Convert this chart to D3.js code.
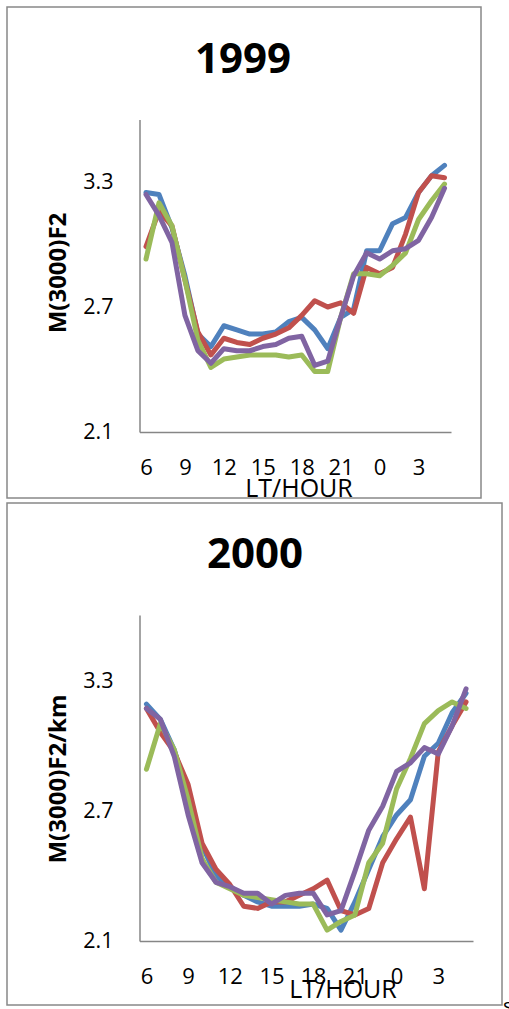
<!DOCTYPE html>
<html><head><meta charset="utf-8">
<script src="https://cdn.jsdelivr.net/npm/d3@7"></script>
<style>body{margin:0;background:#fff;} svg{display:block;}</style>
</head><body>
<svg id="c" width="509" height="1009"></svg>
<script>
const hours = ["6","7","8","9","10","11","12","13","14","15","16","17","18","19","20","21","22","23","0","1","2","3","4","5"];
const tickHours = ["6","9","12","15","18","21","0","3"];
const yTicks = [2.1, 2.7, 3.3];
const seriesColors = ["#4F81BD","#C0504D","#9BBB59","#8064A2"];

const s1999_blue   = [3.25,3.24,3.08,2.85,2.57,2.51,2.61,2.59,2.57,2.57,2.58,2.63,2.65,2.59,2.50,2.65,2.69,2.97,2.97,3.10,3.13,3.25,3.33,3.38];
const s1999_red    = [2.99,3.16,3.09,2.83,2.58,2.47,2.55,2.53,2.52,2.55,2.57,2.60,2.66,2.73,2.70,2.72,2.67,2.89,2.86,2.89,3.05,3.25,3.33,3.32];
const s1999_green  = [2.93,3.20,3.09,2.83,2.54,2.41,2.45,2.46,2.47,2.47,2.47,2.46,2.47,2.39,2.39,2.65,2.86,2.86,2.85,2.90,2.96,3.12,3.21,3.29];
const s1999_purple = [3.24,3.14,3.01,2.66,2.49,2.43,2.50,2.49,2.49,2.51,2.52,2.55,2.56,2.42,2.44,2.65,2.85,2.96,2.93,2.97,2.98,3.02,3.13,3.27];

const s2000_blue   = [3.19,3.12,2.98,2.77,2.54,2.40,2.35,2.31,2.28,2.26,2.26,2.26,2.27,2.25,2.15,2.28,2.43,2.58,2.68,2.75,2.95,3.01,3.15,3.24];
const s2000_red    = [3.17,3.06,2.97,2.82,2.55,2.43,2.36,2.26,2.25,2.28,2.28,2.31,2.34,2.38,2.24,2.22,2.25,2.46,2.57,2.67,2.34,2.97,3.09,3.20];
const s2000_green  = [2.89,3.10,2.98,2.75,2.48,2.37,2.34,2.31,2.30,2.29,2.28,2.27,2.27,2.15,2.19,2.22,2.46,2.55,2.80,2.94,3.10,3.16,3.20,3.17];
const s2000_purple = [3.17,3.12,2.95,2.68,2.46,2.37,2.35,2.32,2.32,2.27,2.31,2.32,2.32,2.22,2.24,2.42,2.61,2.72,2.88,2.92,2.99,2.96,3.09,3.26];

const panels = [
  {title:"1999", ytitle:"M(3000)F2", series:[s1999_blue,s1999_red,s1999_green,s1999_purple],
   box:[7,7,481,498], plot:{x0:139.5,x1:451,y0:432,y1:119.5}, titleX:243, titleY:73,
   ytitleX:66, ytitleY:273, xlabY:475, lthX:299, lthY:497},
  {title:"2000", ytitle:"M(3000)F2/km", series:[s2000_blue,s2000_red,s2000_green,s2000_purple],
   box:[7,503,502,1005], plot:{x0:139.5,x1:473,y0:941,y1:615}, titleX:255, titleY:568,
   ytitleX:66, ytitleY:779, xlabY:984, lthX:343, lthY:998}
];

const svg = d3.select("#c");
const F = "'Open Sans', 'Noto Sans', sans-serif";

panels.forEach(p => {
  const g = svg.append("g");
  g.append("rect").attr("x",p.box[0]).attr("y",p.box[1])
    .attr("width",p.box[2]-p.box[0]).attr("height",p.box[3]-p.box[1])
    .attr("fill","#fff").attr("stroke","#888").attr("stroke-width",1.5);

  const x = d3.scalePoint().domain(hours).range([p.plot.x0,p.plot.x1]).padding(0.5);
  const y = d3.scaleLinear().domain([2.1,3.6]).range([p.plot.y0,p.plot.y1]);

  const yAx = g.append("g").attr("transform",`translate(${p.plot.x0},0)`)
    .call(d3.axisLeft(y).tickValues(yTicks).tickSize(0).tickSizeOuter(0).tickPadding(26).tickFormat(d3.format(".1f")));
  yAx.select(".domain").attr("stroke","#868686").attr("stroke-width",1.5);
  yAx.selectAll("text").attr("font-family",F).attr("font-size",21.5).attr("fill","#000");

  const xAx = g.append("g").attr("transform",`translate(0,${p.plot.y0})`)
    .call(d3.axisBottom(x).tickValues(tickHours).tickSize(0).tickSizeOuter(0).tickPadding(0));
  xAx.select(".domain").attr("stroke","#868686").attr("stroke-width",1.5);
  xAx.selectAll("text").attr("font-family",F).attr("font-size",22).attr("fill","#000")
    .attr("dy",null).attr("y",p.xlabY-p.plot.y0);

  const line = d3.line().x((d,i)=>x(hours[i])).y(d=>y(d));
  p.series.forEach((s,k) => {
    g.append("path").datum(s).attr("d",line).attr("fill","none")
      .attr("stroke",seriesColors[k]).attr("stroke-width",5)
      .attr("stroke-linejoin","round").attr("stroke-linecap","round");
  });

  g.append("text").attr("x",p.titleX).attr("y",p.titleY).attr("text-anchor","middle")
    .attr("font-family",F).attr("font-weight","bold").attr("font-size",42).text(p.title);
  g.append("text").attr("transform",`translate(${p.ytitleX},${p.ytitleY}) rotate(-90)`)
    .attr("text-anchor","middle").attr("font-family",F).attr("font-weight","bold")
    .attr("font-size",24).text(p.ytitle);
  g.append("text").attr("x",p.lthX).attr("y",p.lthY).attr("text-anchor","middle")
    .attr("font-family",F).attr("font-size",25).text("LT/HOUR");
});
svg.append("text").attr("x",503).attr("y",1013).attr("font-family",F).attr("font-size",20).text("s");
</script>
</body></html>
